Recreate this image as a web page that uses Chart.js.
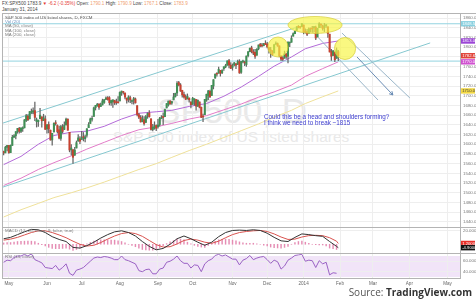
<!DOCTYPE html>
<html>
<head>
<meta charset="utf-8">
<script src="https://cdn.jsdelivr.net/npm/chart.js@4.4.0/dist/chart.umd.min.js"></script>
<style>
  body { margin: 0; background: #fff; }
  #wrap { position: relative; width: 476px; height: 300px; overflow: hidden; background: #fff;
          font-family: "Liberation Sans", Arial, sans-serif; }
  .abs { position: absolute; white-space: nowrap; line-height: 1; }
  .panel { position: absolute; left: 2px; width: 474px; }
  .panel canvas { position: absolute; left: 0; top: 0; }
  .hl { position: absolute; background: #b4b4b4; }
  .wm { color: #e9e9e9; left: 0; width: 464px; text-align: center; }
  .leg { left: 5px; font-size: 4.4px; color: #7a7a7a; }
  .note { left: 264px; font-size: 6.3px; color: #3c3cd0; }
</style>
</head>
<body>
<div id="wrap">
  <div class="abs" style="left:2px;top:1.6px;font-size:4.6px;color:#444">
    FX:SPX500 1783.9 <span style="color:#e53935">&#9660; -6.2 (-0.35%)</span>
    Open: <span style="color:#f0a070">1790.1</span> High: <span style="color:#f0a070">1790.9</span>
    Low: <span style="color:#f0a070">1767.1</span> Close: <span style="color:#f0a070">1783.9</span>
  </div>
  <div class="abs" style="left:2px;top:8px;font-size:4.6px;color:#444">January 31, 2014</div>

  <div class="abs wm" style="top:93.4px;font-size:35px">SP500, D</div>
  <div class="abs wm" style="top:129px;font-size:15.5px;width:462px">S&amp;P 500 index of US listed shares</div>

  <div class="panel" style="top:13px;height:214px"><canvas id="cPrice" width="474" height="214"></canvas></div>
  <div class="panel" style="top:227px;height:26px"><canvas id="cMacd" width="474" height="26"></canvas></div>
  <div class="panel" style="top:253px;height:34px"><canvas id="cRsi" width="474" height="34"></canvas></div>

  <div class="hl" style="left:2px;top:13px;width:474px;height:1px"></div>
  <div class="hl" style="left:2px;top:227px;width:474px;height:1px"></div>
  <div class="hl" style="left:2px;top:253px;width:474px;height:1px"></div>
  <div class="hl" style="left:2px;top:13px;width:1px;height:265px"></div>

  <div class="abs leg" style="top:15.5px;color:#555">S&amp;P 500 index of US listed shares, D, FXCM</div>
  <div class="abs leg" style="top:19.5px;color:#6d93c0">Vol (20)</div>
  <div class="abs leg" style="top:24px">MA (50, close)</div>
  <div class="abs leg" style="top:28.5px">MA (100, close)</div>
  <div class="abs leg" style="top:33px">MA (200, close)</div>
  <div class="abs leg" style="top:228.5px">MACD (12, 26, close, 9, false, true)</div>
  <div class="abs leg" style="top:255px">RSI (14, close)</div>

  <div class="abs note" style="top:113.5px">Could this be a head and shoulders forming?</div>
  <div class="abs note" style="top:120px">I think we need to break ~1815</div>

  <div class="abs" style="right:4px;top:287px;font-size:10px;color:#555;font-family:'Open Sans','Liberation Sans',sans-serif">
    Source: <b style="color:#333">TradingView.com</b>
  </div>
</div>

<script>
// ---------------------------------------------
// S&P 500 daily, 26 Apr 2013 .. 31 Jan 2014
// x = trading-day index (0 = 26 Apr 2013)
// ---------------------------------------------

const MONTH_IDX = [3, 25, 45, 67, 89, 109, 132, 152, 173, 194, 213, 234, 256];
const MONTH_LABELS = ["May", "Jun", "Jul", "Aug", "Sep", "Oct", "Nov", "Dec", "2014", "Feb", "Mar", "Apr", "May"];
const PRICE_TICKS = [1440, 1460, 1480, 1500, 1520, 1540, 1560, 1580, 1600, 1620, 1640,
                     1660, 1680, 1700, 1720, 1740, 1760, 1780, 1800, 1820, 1840, 1860];
const MACD_TICKS = [20];
const RSI_TICKS = [40, 60];

const OPEN = [
  1585.0, 1582.3, 1593.6,
  1597.6, 1582.8, 1597.6, 1614.4, 1617.5, 1626.0, 1632.7, 1626.7, 1632.1, 1633.8, 1649.1, 1658.1, 1652.5, 1665.7, 1666.2, 1669.4, 1646.7, 1646.7, 1652.6, 1656.6, 1649.1, 1652.1,
  1631.7, 1640.7, 1629.1, 1609.0, 1625.3, 1644.0, 1638.6, 1629.9, 1612.2, 1635.5, 1630.6, 1639.8, 1651.8, 1624.6, 1588.6, 1588.8, 1577.5, 1592.3, 1606.4, 1611.1,
  1609.8, 1614.3, 1611.5, 1618.7, 1634.2, 1642.9, 1651.6, 1657.4, 1675.3, 1679.6, 1682.7, 1677.9, 1681.0, 1686.2, 1692.4, 1696.1, 1696.1, 1685.2, 1687.3, 1690.3, 1687.9, 1686.0,
  1689.4, 1706.1, 1708.0, 1705.8, 1695.3, 1693.4, 1696.1, 1688.4, 1690.7, 1693.4, 1679.6, 1661.2, 1655.3, 1646.8, 1650.7, 1645.0, 1659.9, 1664.3, 1652.5, 1630.3, 1633.5, 1638.9,
  1635.9, 1640.7, 1653.3, 1657.4, 1656.9, 1675.1, 1681.0, 1689.2, 1685.0, 1691.7, 1697.7, 1705.7, 1727.3, 1722.4, 1711.4, 1702.6, 1698.0, 1694.1, 1695.5, 1687.3,
  1682.4, 1691.9, 1692.4, 1678.8, 1687.2, 1676.2, 1657.0, 1660.9, 1691.1, 1699.9, 1709.2, 1700.5, 1720.2, 1736.7, 1745.2, 1746.5, 1752.3, 1747.5, 1756.0, 1759.4, 1762.9, 1772.3, 1763.2,
  1758.7, 1763.4, 1765.7, 1765.0, 1770.7, 1748.4, 1770.0, 1769.5, 1764.4, 1782.8, 1790.7, 1798.8, 1790.8, 1789.6, 1783.5, 1797.0, 1806.3, 1802.9, 1803.5, 1808.1,
  1806.6, 1800.1, 1794.2, 1792.8, 1788.4, 1806.2, 1807.5, 1802.8, 1781.7, 1778.0, 1777.5, 1786.5, 1781.5, 1809.0, 1810.4, 1822.9, 1828.0, 1835.0, 1843.0, 1841.5, 1842.6,
  1845.9, 1833.2, 1832.3, 1828.7, 1837.9, 1839.0, 1840.1, 1841.3, 1821.4, 1840.5, 1848.0, 1844.2, 1841.1, 1844.7, 1842.3, 1827.0, 1791.0, 1783.0, 1790.2, 1777.2, 1790.9,
];
const HIGH = [
  1586.0, 1596.0, 1597.6,
  1597.6, 1598.6, 1618.5, 1619.8, 1626.0, 1632.8, 1635.0, 1633.7, 1636.0, 1651.1, 1661.5, 1660.5, 1667.5, 1672.8, 1674.9, 1687.2, 1654.2, 1649.8, 1674.2, 1656.6, 1661.9, 1658.9,
  1640.4, 1646.5, 1629.3, 1622.6, 1644.4, 1648.7, 1640.1, 1637.7, 1639.3, 1640.8, 1646.5, 1654.2, 1652.5, 1624.6, 1599.2, 1588.8, 1593.8, 1606.8, 1620.1, 1615.9,
  1626.6, 1624.3, 1618.9, 1632.1, 1644.7, 1654.2, 1657.9, 1676.6, 1680.2, 1684.5, 1683.7, 1684.8, 1693.1, 1692.1, 1697.6, 1698.4, 1698.4, 1690.9, 1691.9, 1690.9, 1693.2, 1698.4,
  1707.9, 1709.7, 1709.2, 1705.8, 1695.3, 1700.2, 1699.4, 1691.5, 1696.8, 1695.5, 1679.6, 1663.6, 1659.2, 1658.9, 1656.9, 1659.6, 1664.9, 1669.5, 1652.5, 1641.2, 1646.4, 1640.1,
  1651.4, 1655.7, 1659.2, 1664.8, 1672.4, 1684.1, 1689.1, 1690.0, 1688.7, 1705.0, 1705.5, 1729.4, 1729.9, 1725.2, 1711.4, 1707.6, 1701.7, 1703.9, 1695.5, 1687.3,
  1696.6, 1693.9, 1692.4, 1691.9, 1687.2, 1676.8, 1662.5, 1692.6, 1703.4, 1711.0, 1711.6, 1721.8, 1733.4, 1745.3, 1747.8, 1759.3, 1752.3, 1753.9, 1759.8, 1765.0, 1772.1, 1775.2, 1768.5,
  1765.7, 1768.8, 1767.0, 1773.7, 1774.5, 1770.8, 1773.4, 1771.8, 1782.0, 1791.5, 1798.2, 1802.3, 1795.5, 1795.7, 1797.2, 1804.8, 1808.1, 1808.4, 1808.3, 1813.6,
  1810.0, 1800.1, 1799.8, 1792.8, 1806.0, 1811.5, 1809.0, 1803.0, 1783.0, 1780.9, 1792.2, 1786.8, 1811.1, 1810.9, 1823.8, 1829.8, 1833.3, 1842.8, 1844.9, 1842.5, 1849.4,
  1845.9, 1838.2, 1837.2, 1840.1, 1840.0, 1843.2, 1843.0, 1843.5, 1839.3, 1850.8, 1848.0, 1846.0, 1849.3, 1846.9, 1842.3, 1827.0, 1796.0, 1793.9, 1790.2, 1798.8, 1793.9,
];
const LOW = [
  1578.0, 1582.3, 1586.5,
  1581.3, 1582.8, 1597.6, 1614.2, 1611.0, 1622.7, 1623.1, 1623.7, 1626.7, 1633.8, 1646.7, 1648.6, 1652.5, 1663.5, 1662.7, 1648.9, 1635.5, 1636.9, 1652.6, 1635.5, 1648.6, 1630.7,
  1622.7, 1623.6, 1608.4, 1598.2, 1625.3, 1639.3, 1622.9, 1610.9, 1608.1, 1623.0, 1630.3, 1639.8, 1628.9, 1584.3, 1577.7, 1560.3, 1577.1, 1592.3, 1606.4, 1601.1,
  1609.8, 1606.8, 1604.6, 1614.7, 1634.2, 1642.9, 1647.7, 1657.4, 1670.6, 1677.9, 1671.8, 1677.9, 1681.0, 1684.1, 1692.4, 1691.2, 1681.0, 1680.1, 1676.0, 1681.9, 1682.4, 1684.9,
  1689.4, 1700.7, 1703.5, 1693.3, 1684.9, 1687.1, 1686.0, 1683.4, 1682.6, 1684.8, 1658.6, 1652.6, 1645.8, 1646.1, 1639.4, 1645.0, 1653.4, 1656.0, 1629.1, 1627.5, 1630.9, 1628.0,
  1633.4, 1637.4, 1653.1, 1640.6, 1656.9, 1675.1, 1678.7, 1682.0, 1682.2, 1691.7, 1697.7, 1700.2, 1720.2, 1708.9, 1697.1, 1694.9, 1691.9, 1693.1, 1687.0, 1675.0,
  1682.1, 1680.3, 1670.4, 1677.3, 1675.0, 1655.0, 1646.5, 1660.9, 1688.5, 1692.1, 1695.9, 1700.5, 1714.1, 1735.7, 1740.6, 1746.5, 1740.5, 1745.5, 1752.5, 1757.7, 1762.9, 1757.2, 1755.7,
  1752.7, 1761.6, 1755.8, 1764.4, 1746.2, 1746.2, 1767.9, 1762.3, 1760.6, 1780.2, 1790.7, 1788.4, 1784.7, 1777.2, 1783.5, 1794.7, 1800.6, 1800.8, 1802.8, 1805.8,
  1798.6, 1787.9, 1779.1, 1783.4, 1788.4, 1806.2, 1802.0, 1780.1, 1772.3, 1772.5, 1777.5, 1777.2, 1768.0, 1801.3, 1810.4, 1822.9, 1828.0, 1835.0, 1839.8, 1838.8, 1842.4,
  1827.7, 1829.1, 1823.7, 1828.7, 1831.4, 1830.4, 1832.4, 1815.5, 1821.4, 1840.5, 1840.3, 1835.2, 1832.4, 1840.9, 1820.1, 1790.3, 1772.9, 1783.0, 1770.5, 1777.2, 1772.3,
];
const CLOSE = [
  1582.2, 1593.6, 1597.6,
  1582.7, 1597.6, 1614.4, 1617.5, 1626.0, 1632.7, 1626.7, 1633.7, 1633.8, 1650.3, 1658.8, 1650.5, 1667.5, 1666.3, 1669.2, 1655.4, 1650.5, 1649.6, 1660.1, 1648.4, 1654.4, 1630.7,
  1640.4, 1631.4, 1608.9, 1622.6, 1643.4, 1642.8, 1626.1, 1612.5, 1636.4, 1626.7, 1639.0, 1651.8, 1628.9, 1588.2, 1592.4, 1573.1, 1588.0, 1603.3, 1613.2, 1606.3,
  1614.1, 1614.1, 1615.4, 1631.9, 1640.5, 1652.3, 1652.6, 1675.0, 1680.2, 1682.5, 1676.3, 1680.9, 1689.4, 1692.1, 1695.5, 1692.4, 1685.9, 1690.3, 1691.7, 1685.3, 1686.0, 1685.7,
  1706.9, 1709.7, 1707.1, 1697.4, 1690.9, 1697.5, 1691.4, 1689.5, 1694.2, 1685.4, 1661.3, 1655.8, 1646.1, 1652.4, 1642.8, 1657.0, 1663.5, 1656.8, 1630.5, 1635.0, 1638.2, 1633.0,
  1639.8, 1653.1, 1655.1, 1655.2, 1671.7, 1684.0, 1689.1, 1683.4, 1688.0, 1697.6, 1704.8, 1725.5, 1722.3, 1709.9, 1701.8, 1697.4, 1692.8, 1698.7, 1691.8, 1681.6,
  1695.0, 1693.9, 1678.7, 1690.5, 1676.1, 1655.5, 1656.4, 1692.6, 1703.2, 1710.1, 1698.1, 1721.5, 1733.2, 1744.5, 1744.7, 1754.7, 1746.4, 1752.1, 1759.8, 1762.1, 1772.0, 1763.3, 1756.5,
  1761.6, 1767.9, 1763.0, 1770.5, 1747.2, 1770.6, 1771.9, 1767.7, 1782.0, 1790.6, 1798.2, 1791.5, 1787.9, 1781.4, 1795.9, 1804.8, 1802.5, 1802.8, 1807.2, 1805.8,
  1800.9, 1795.2, 1792.8, 1785.0, 1805.1, 1808.4, 1802.6, 1782.2, 1775.5, 1775.3, 1786.5, 1781.0, 1810.7, 1809.6, 1818.3, 1828.0, 1833.3, 1842.0, 1841.4, 1841.1, 1848.4,
  1832.0, 1831.4, 1826.8, 1837.9, 1837.5, 1838.1, 1842.4, 1819.2, 1838.9, 1848.4, 1845.9, 1838.7, 1843.8, 1844.9, 1828.5, 1790.3, 1781.6, 1792.5, 1774.2, 1794.2, 1782.6,
];

// moving averages, read roughly every two weeks
const MA_IDX = [0, 10, 20, 29, 39, 48, 58, 68, 78, 88, 97, 107, 117, 127, 137, 147, 156, 166, 174, 184, 193];
const MA50 = [1558, 1575, 1600, 1618, 1625, 1627, 1637, 1652, 1664, 1667, 1670, 1678, 1684, 1699, 1718, 1740, 1761, 1780, 1797, 1808, 1813];
const MA100 = [1515, 1530, 1548, 1562, 1576, 1590, 1604, 1618, 1630, 1636, 1643, 1652, 1659, 1671, 1683, 1697, 1708, 1722, 1740, 1756, 1770];
const MA200 = [1450, 1465, 1478, 1490, 1500, 1510, 1522, 1535, 1548, 1560, 1573, 1587, 1600, 1614, 1628, 1642, 1656, 1670, 1684, 1698, 1710];

// MACD (12, 26, 9)
const MACD_IDX = [0, 4, 8, 12, 16, 20, 24, 28, 32, 36, 40, 44, 48, 52, 56, 60, 64, 68, 72, 76, 80, 84, 88, 92, 96,
                  100, 104, 108, 112, 116, 120, 124, 128, 132, 136, 140, 144, 148, 152, 156, 160, 164, 168, 172, 176, 180, 184, 188, 192, 193];
const MACD_LINE = [8, 10, 14, 18, 21.5, 21, 17, 11, 7, 4, -4.5, -5.5, -2, 3, 9, 14, 18, 19.5, 17, 12, 4, -3, -8, -6, 0,
                   8, 12, 8, 3, -1.5, 3, 11, 17, 20, 20.5, 20, 21, 20, 16, 10, 5, 4, 10, 15, 14, 12.5, 11.5, 4, -3, -4.9];
const MACD_SIGNAL = [6, 7.5, 10, 13.5, 17, 19.5, 19.5, 17, 13.5, 9.5, 4.5, 0, -2.5, -1.5, 2.5, 7.5, 12, 15.5, 17, 15.5, 11.5, 5.5, -0.5, -4, -3.5,
                     0.5, 5.5, 7.5, 6, 3, 1.5, 4.5, 9.5, 14, 17, 18.5, 19.5, 20, 18.5, 15, 10.5, 7, 7.5, 10.5, 12.5, 13, 12.5, 9.5, 4.5, 1.2];
// histogram, every second day
const HIST_STEP = 2;
const MACD_HIST = [
  2, 2.3, 2.5, 3.3, 4, 4.2, 4.5, 4.8, 4.5, 4, 1.5, -0.6, -2.5, -4.4, -6, -6.3, -6.5, -6, -5.5, -7,
  -9, -7.5, -5.5, -2.5, 0.5, 2.7, 4.5, 5.5, 6.5, 6.5, 6.5, 6.2, 6, 5, 4, 2, 0, -1.8, -3.5, -5.5,
  -7.5, -8, -8.5, -8.5, -7.5, -5, -2, 1, 3.5, 5.5, 7.5, 7.5, 6.5, 3, 0.5, -1.5, -3, -4, -4.5, -1.5,
  1.5, 4.2, 6.5, 7, 7.5, 7, 6, 5, 3.5, 2, 1.5, 1.5, 1.5, 0.5, 0, -1.3, -2.5, -4, -5, -5.3,
  -5.5, -4.5, -3, 0, 2.5, 4, 4.5, 3, 1.5, 0, -0.5, -0.8, -1, -2.5, -5.5, -6.5, -7.5,
];

// RSI (14), every second day
const RSI_STEP = 2;
const RSI = [
  58, 62, 61, 67, 70, 70, 73, 70, 74, 63, 60, 57, 48, 47, 46, 52, 43, 48, 55, 37,
  33, 43, 45, 48, 54, 60, 66, 68, 67, 69, 68, 66, 63, 63, 70, 63, 61, 58, 55, 42,
  40, 44, 45, 36, 36, 45, 47, 58, 60, 64, 70, 61, 56, 56, 47, 53, 52, 40, 55, 61,
  64, 71, 73, 70, 72, 68, 64, 64, 53, 62, 65, 71, 63, 66, 68, 69, 63, 56, 62, 59,
  45, 51, 62, 66, 71, 72, 73, 60, 62, 61, 48, 61, 55, 58, 34, 38, 37,
];

// drawings on the price pane, in (day index, price)
const H_LINES = [1848.5, 1771.5];
const CHANNEL_TOP = [[-1, 1643], [168, 1840]];
const CHANNEL_BOTTOM = [[-1, 1511], [246, 1809]];
const TREND_A = [[178.4, 1831.5], [215.9, 1691.3]];
const TREND_B = [[195.1, 1829.4], [234.3, 1695.4]];
const ARROW = [[203.8, 1780], [224.5, 1701.6]];
// [centre day, centre price, half width in days, half height in price]
const HS_ELLIPSES = [[158.2, 1800.6, 5.8, 20.6], [179.6, 1846, 15.6, 17.5], [196.9, 1797.5, 6.1, 22.7]];

const X_MIN = -0.95, X_MAX = 263.2;
const FONT = "'Liberation Sans', Arial, sans-serif";
const GRID = "#eeeeee";
const FRAME = "#b4b4b4";
const AXIS_W = 16;

function pts(pairs) { return pairs.map(p => ({ x: p[0], y: p[1] })); }

function lineDs(data, color, order, width) {
    return { type: "line", data, borderColor: color, borderWidth: width || 1, pointRadius: 0,
             tension: 0, fill: false, order: order || 3 };
}

function xAxis(showLabels) {
    return {
        type: "linear", min: X_MIN, max: X_MAX, offset: false,
        afterBuildTicks: s => { s.ticks = MONTH_IDX.map(v => ({ value: v })); },
        ticks: { display: showLabels, autoSkip: false, maxRotation: 0, padding: 2.5, color: "#666",
                 font: { size: 4.6, family: FONT }, callback: (v, i) => MONTH_LABELS[i] },
        grid: { color: GRID, drawTicks: false, offset: false },
        border: { display: showLabels, color: FRAME },
        afterFit: s => { s.height = showLabels ? 9 : 0; s.paddingLeft = 0; s.paddingRight = 0; },
    };
}

function yAxis(min, max, ticks, fmt) {
    return {
        position: "right", min, max,
        afterBuildTicks: s => { s.ticks = ticks.map(v => ({ value: v })); },
        ticks: { color: "#777", padding: 3, font: { size: 4.4, family: FONT }, callback: fmt },
        grid: { color: GRID, drawTicks: false },
        border: { color: FRAME },
        afterFit: s => { s.width = AXIS_W; s.paddingTop = 0; s.paddingBottom = 0; },
    };
}

function axisTags(tags) {
    return {
        id: "axisTags",
        afterDraw(chart) {
            const { ctx, chartArea, scales: { y } } = chart;
            ctx.save();
            ctx.font = `4.2px ${FONT}`;
            ctx.textBaseline = "middle";
            tags.forEach(t => {
                const py = y.getPixelForValue(t.value);
                ctx.fillStyle = t.bg;
                ctx.fillRect(chartArea.right + 1, py - 2.7, AXIS_W - 2, 5.4);
                ctx.fillStyle = t.fg || "#fff";
                ctx.fillText(t.value.toFixed(t.digits), chartArea.right + 2.2, py + 0.2);
            });
            ctx.restore();
        },
    };
}

const baseOpts = {
    responsive: false,
    animation: false,
    events: [],
    layout: { padding: 0 },
    plugins: { legend: { display: false }, tooltip: { enabled: false } },
};

// --- price pane ---
const drawings = {
    id: "drawings",
    afterDatasetsDraw(chart) {
        const { ctx, chartArea, scales: { x, y } } = chart;
        ctx.save();
        ctx.beginPath();
        ctx.rect(chartArea.left, chartArea.top, chartArea.width, chartArea.height);
        ctx.clip();
        HS_ELLIPSES.forEach(e => {
            const cx = x.getPixelForValue(e[0]);
            const cy = y.getPixelForValue(e[1]);
            const rx = x.getPixelForValue(e[0] + e[2]) - cx;
            const ry = cy - y.getPixelForValue(e[1] + e[3]);
            ctx.beginPath();
            ctx.ellipse(cx, cy, rx, ry, 0, 0, Math.PI * 2);
            ctx.fillStyle = "rgba(248, 244, 70, 0.68)";
            ctx.fill();
            ctx.strokeStyle = "rgba(215, 205, 60, 0.9)";
            ctx.lineWidth = 0.8;
            ctx.stroke();
        });
        // arrow head
        const x1 = x.getPixelForValue(ARROW[0][0]), y1 = y.getPixelForValue(ARROW[0][1]);
        const x2 = x.getPixelForValue(ARROW[1][0]), y2 = y.getPixelForValue(ARROW[1][1]);
        const a = Math.atan2(y2 - y1, x2 - x1);
        ctx.strokeStyle = "#6b8db5";
        ctx.lineWidth = 1;
        ctx.beginPath();
        ctx.moveTo(x2 - 4 * Math.cos(a - 0.5), y2 - 4 * Math.sin(a - 0.5));
        ctx.lineTo(x2, y2);
        ctx.lineTo(x2 - 4 * Math.cos(a + 0.5), y2 - 4 * Math.sin(a + 0.5));
        ctx.stroke();
        ctx.restore();
    },
};

const last = arr => arr[arr.length - 1];

new Chart(document.getElementById("cPrice"), {
    type: "bar",
    data: {
        datasets: [
            lineDs(MA_IDX.map((d, i) => ({ x: d, y: MA200[i] })), "#efe19a", 5),
            lineDs(MA_IDX.map((d, i) => ({ x: d, y: MA100[i] })), "#e27cc8", 5),
            lineDs(MA_IDX.map((d, i) => ({ x: d, y: MA50[i] })), "#b36ad8", 5),
            lineDs(pts(CHANNEL_TOP), "#86c8d0", 4),
            lineDs(pts(CHANNEL_BOTTOM), "#86c8d0", 4),
            ...H_LINES.map(v => lineDs([{ x: X_MIN, y: v }, { x: X_MAX, y: v }], "#93d3e0", 4)),
            {
                type: "bar", grouped: false, order: 2, barThickness: 0.6,
                data: CLOSE.map((c, i) => ({ x: i, y: [LOW[i], HIGH[i]] })),
                backgroundColor: "#666",
            },
            {
                type: "bar", grouped: false, order: 1, barThickness: 1.4, minBarLength: 0.8,
                data: CLOSE.map((c, i) => ({ x: i, y: [OPEN[i], c] })),
                backgroundColor: CLOSE.map((c, i) => c >= OPEN[i] ? "#3f8f55" : "#c8412f"),
            },
            lineDs(pts(TREND_A), "#9ab6c9", 0),
            lineDs(pts(TREND_B), "#9ab6c9", 0),
            lineDs(pts(ARROW), "#6b8db5", 0),
        ],
    },
    options: {
        ...baseOpts,
        scales: {
            x: xAxis(false),
            y: yAxis(1429.4, 1870.7, PRICE_TICKS, v => v.toFixed(1)),
        },
    },
    plugins: [drawings, axisTags([
        { value: H_LINES[0], bg: "#8ad0df", digits: 1 },
        { value: last(MA50), bg: "#9b45d6", digits: 1 },
        { value: last(CLOSE), bg: "#e0443a", digits: 1 },
        { value: last(MA100), bg: "#d052d0", digits: 1 },
        { value: last(MA200), bg: "#f2d845", fg: "#444", digits: 1 },
    ])],
});

// --- MACD pane ---
new Chart(document.getElementById("cMacd"), {
    type: "bar",
    data: {
        datasets: [
            {
                type: "bar", grouped: false, order: 3, barThickness: 0.8,
                data: MACD_HIST.map((v, i) => ({ x: i * HIST_STEP, y: v })),
                backgroundColor: "#e58db4",
            },
            lineDs(MACD_IDX.map((d, i) => ({ x: d, y: MACD_SIGNAL[i] })), "#d9534f", 2),
            lineDs(MACD_IDX.map((d, i) => ({ x: d, y: MACD_LINE[i] })), "#333333", 1),
        ],
    },
    options: {
        ...baseOpts,
        scales: {
            x: xAxis(false),
            y: yAxis(-12.6, 25, MACD_TICKS, v => v.toFixed(4)),
        },
    },
    plugins: [axisTags([
        { value: last(MACD_SIGNAL), bg: "#e8302a", digits: 4 },
        { value: last(MACD_LINE), bg: "#111", digits: 4 },
    ])],
});

// --- RSI pane ---
const rsiBand = {
    id: "rsiBand",
    beforeDraw(chart) {
        const { ctx, chartArea, scales: { y } } = chart;
        const top = y.getPixelForValue(70);
        const bottom = Math.min(y.getPixelForValue(30), chartArea.bottom);
        ctx.save();
        ctx.fillStyle = "#f1e4f8";
        ctx.fillRect(chartArea.left, top, chartArea.width, bottom - top);
        ctx.restore();
    },
};

new Chart(document.getElementById("cRsi"), {
    type: "line",
    data: {
        datasets: [
            lineDs(RSI.map((v, i) => ({ x: i * RSI_STEP, y: v })), "#9a62c4", 1),
        ],
    },
    options: {
        ...baseOpts,
        scales: {
            x: xAxis(true),
            y: yAxis(28, 75.7, RSI_TICKS, v => v.toFixed(4)),
        },
    },
    plugins: [rsiBand],
});
</script>
</body>
</html>
